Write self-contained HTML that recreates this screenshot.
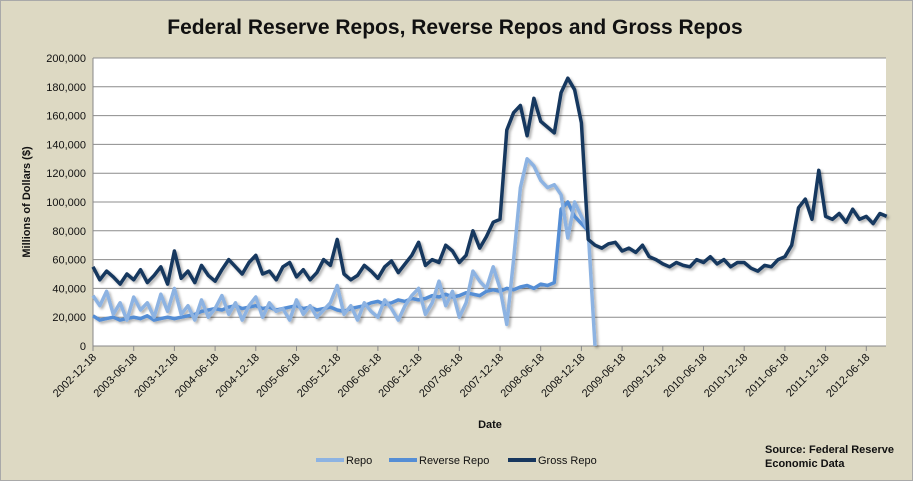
<!DOCTYPE html>
<html><head><meta charset="utf-8"><style>
body{margin:0;background:#ddd9c3;}
svg{display:block;font-family:"Liberation Sans",sans-serif;}
</style></head><body>
<svg id="chart" width="913" height="481" viewBox="0 0 913 481">
<defs><filter id="sh" x="-5%" y="-5%" width="110%" height="115%"><feDropShadow dx="2" dy="2" stdDeviation="1.2" flood-color="#000" flood-opacity="0.3"/></filter></defs>
<rect x="0.5" y="0.5" width="912" height="480" fill="#ddd9c3" stroke="#a9a9a9"/>
<text x="455" y="34" text-anchor="middle" font-size="21" font-weight="bold" fill="#111">Federal Reserve Repos, Reverse Repos and Gross Repos</text>
<rect x="93" y="58" width="793" height="288" fill="#fff"/>
<g id="grid"></g><g id="yticks"></g><g id="xticks"></g><g id="series" filter="url(#sh)"></g>
<text transform="translate(30,202) rotate(-90)" text-anchor="middle" font-size="11" font-weight="bold" fill="#111">Millions  of  Dollars  ($)</text>
<text x="490" y="428" text-anchor="middle" font-size="11" font-weight="bold" fill="#111">Date</text>
<g font-size="11" fill="#111">
<g><line x1="316" y1="460" x2="344" y2="460" stroke="#8db3e2" stroke-width="4"/><text x="346" y="464">Repo</text></g>
<g><line x1="389" y1="460" x2="417" y2="460" stroke="#558ed5" stroke-width="4"/><text x="419" y="464">Reverse Repo</text></g>
<g><line x1="508" y1="460" x2="536" y2="460" stroke="#17375e" stroke-width="4"/><text x="538" y="464">Gross Repo</text></g>
</g>
<text x="765" y="453" font-size="11" font-weight="bold" fill="#111"><tspan x="765">Source: Federal Reserve</tspan><tspan x="765" dy="14">Economic Data</tspan></text>
</svg>
<script>
const xLabels=["2002-12-18","2003-06-18","2003-12-18","2004-06-18","2004-12-18","2005-06-18","2005-12-18","2006-06-18","2006-12-18","2007-06-18","2007-12-18","2008-06-18","2008-12-18","2009-06-18","2009-12-18","2010-06-18","2010-12-18","2011-06-18","2011-12-18","2012-06-18"];
const yTicks=[0,20000,40000,60000,80000,100000,120000,140000,160000,180000,200000];
const gross=[55,46,52,48,43,50,46,53,44,49,55,43,66,47,52,44,56,49,45,53,60,55,50,58,63,50,52,46,55,58,48,53,46,51,60,56,74,50,46,49,56,52,47,55,59,51,57,63,72,56,60,58,70,66,58,63,80,68,76,86,88,150,162,167,146,172,156,152,148,176,186,178,155,74,70,68,71,72,66,68,65,70,62,60,57,55,58,56,55,60,58,62,57,60,55,58,58,54,52,56,55,60,62,70,96,102,88,122,90,88,92,86,95,88,90,85,92,90].map(v=>v*1000);
const reverse=[21,18,19,20,18,19,20,19,21,18,19,20,19,20,21,22,24,25,26,25,27,28,26,27,28,26,27,25,26,27,28,26,27,25,26,27,25,24,26,27,28,30,31,29,30,32,31,33,32,33,35,34,36,34,35,37,36,35,38,39,38,40,39,41,42,40,43,42,44,95,100,90,85,80].map(v=>v*1000);
const repo=[35,28,38,22,30,18,34,25,30,20,36,24,40,22,28,18,32,20,26,35,22,30,18,28,34,20,30,24,26,18,32,22,28,20,25,30,42,22,28,18,30,24,20,32,26,18,28,35,40,22,30,45,28,38,20,30,52,45,40,55,40,15,60,110,130,125,115,110,112,105,75,100,90,80,0].map(v=>v*1000);
const NS="http://www.w3.org/2000/svg";
const X0=93,MW=40.7/6,Y0=346,YMAX=200000,PH=288;
const xs=i=>X0+i*MW, ys=v=>Y0-v/YMAX*PH;
function mk(t,a,p){const e=document.createElementNS(NS,t);for(const k in a)e.setAttribute(k,a[k]);p.appendChild(e);return e;}
const grid=document.getElementById('grid'),yt=document.getElementById('yticks'),xt=document.getElementById('xticks'),se=document.getElementById('series');
yTicks.forEach(v=>{
  const l=mk('line',{x1:X0,x2:886,y1:ys(v),y2:ys(v),stroke:v===0?'#888':'#8c8c8c','stroke-width':1},grid);
  
  
  const t=mk('text',{x:86,y:ys(v)+4,'text-anchor':'end','font-size':11,fill:'#111'},yt);
  t.textContent=v.toLocaleString('en-US');
  
  
});
mk('line',{x1:X0,x2:X0,y1:58,y2:346,stroke:'#888'},grid);
xLabels.forEach((s,i)=>{
  const x=xs(i*6);
  mk('line',{x1:x,x2:x,y1:346,y2:351,stroke:'#888'},xt);
  const t=mk('text',{x:0,y:0,'text-anchor':'end','font-size':11,fill:'#111',transform:`translate(${x+4},${358}) rotate(-45)`},xt);
  t.textContent=s;
  
  
});
function line(arr,color,name){
  const p=mk('polyline',{points:arr.map((v,i)=>xs(i).toFixed(1)+','+ys(v).toFixed(1)).join(' '),fill:'none',stroke:color,'stroke-width':3.5,'stroke-linejoin':'round'},se);
  
  
}
line(reverse,'#558ed5','reverse-repo-line');
line(repo,'#8db3e2','repo-line');
line(gross,'#17375e','gross-repo-line');
</script>
</body></html>
